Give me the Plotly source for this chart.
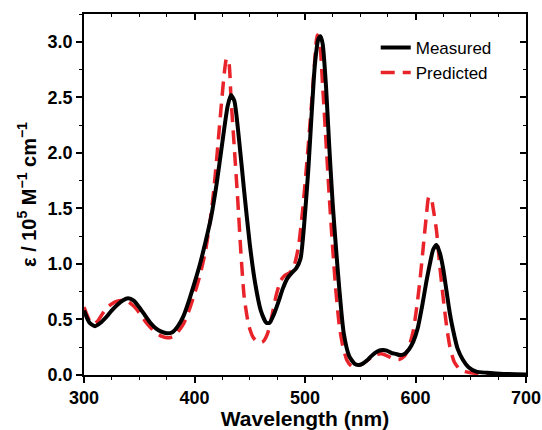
import plotly.graph_objects as go

wl_meas = [300,305,310,315,320,325,330,335,340,345,350,355,360,365,370,375,380,385,390,395,
           400,405,410,415,420,425,430,433,436,440,445,450,455,460,465,468,472,476,480,484,
           488,492,496,500,503,506,509,512,514,516,519,522,525,528,531,535,540,545,548,552,
           556,560,565,570,574,578,582,586,590,594,598,602,606,610,613,616,619,622,625,628,
           631,634,638,643,648,655,665,680,700]
eps_meas = [0.58,0.47,0.44,0.47,0.52,0.58,0.63,0.67,0.69,0.67,0.61,0.54,0.47,0.42,0.39,0.375,0.385,0.44,0.53,0.67,
            0.83,1.0,1.2,1.42,1.72,2.08,2.42,2.52,2.47,2.15,1.65,1.18,0.82,0.58,0.47,0.47,0.55,0.66,0.78,0.87,
            0.92,0.96,1.05,1.45,1.85,2.35,2.8,3.02,3.05,2.98,2.6,2.05,1.55,1.15,0.78,0.38,0.17,0.1,0.09,0.1,
            0.13,0.17,0.21,0.225,0.22,0.2,0.19,0.18,0.19,0.23,0.3,0.42,0.62,0.85,1.0,1.13,1.17,1.1,0.96,0.76,
            0.56,0.405,0.24,0.135,0.07,0.03,0.02,0.01,0.005]

wl_pred = [300,305,308,312,316,320,325,330,335,340,345,350,355,360,365,370,375,380,385,390,
           395,400,405,410,415,418,421,424,427,429,431,433,436,439,442,445,449,453,458,462,
           466,470,474,478,482,486,490,494,498,502,506,509,511,513,516,519,522,525,528,531,
           534,538,542,546,550,555,560,565,570,575,580,585,590,594,598,601,604,607,610,612,
           614,616,619,622,625,628,631,635,640,645,650,660,700]
eps_pred = [0.61,0.49,0.46,0.48,0.54,0.6,0.64,0.665,0.67,0.66,0.62,0.56,0.49,0.43,0.38,0.35,0.335,0.345,0.39,0.46,
            0.58,0.73,0.9,1.12,1.45,1.72,2.05,2.4,2.72,2.85,2.82,2.5,2.05,1.6,1.1,0.7,0.45,0.34,0.29,0.3,
            0.37,0.53,0.72,0.85,0.9,0.92,0.98,1.15,1.5,1.95,2.45,2.85,3.06,3.02,2.6,2.1,1.6,1.15,0.75,0.45,
            0.27,0.13,0.08,0.075,0.09,0.12,0.16,0.185,0.19,0.17,0.145,0.14,0.17,0.25,0.4,0.6,0.85,1.15,1.45,1.6,
            1.6,1.5,1.3,0.98,0.7,0.45,0.26,0.12,0.05,0.03,0.02,0.01,0.0]

fig = go.Figure()
fig.add_trace(go.Scatter(x=wl_pred, y=eps_pred, mode="lines", name="Predicted",
                         line=dict(color="#e8242a", width=3.5, dash="14px,8px", shape="spline", smoothing=0.6)))
fig.add_trace(go.Scatter(x=wl_meas, y=eps_meas, mode="lines", name="Measured",
                         line=dict(color="black", width=4, shape="spline", smoothing=0.6)))
# invisible trace for mirrored axes
fig.add_trace(go.Scatter(x=[300], y=[0], xaxis="x2", yaxis="y2", mode="markers",
                         marker=dict(opacity=0), showlegend=False, hoverinfo="skip"))

font_family = "Liberation Sans, Arial, sans-serif"
fig.update_layout(
    width=542, height=430,
    margin=dict(l=84, r=16, t=14, b=55, autoexpand=False),
    plot_bgcolor="white", paper_bgcolor="white",
    font=dict(family=font_family, color="black"),
    showlegend=True,
    legend=dict(x=0.66, y=0.956, xanchor="left", yanchor="top", traceorder="reversed",
                font=dict(size=17, family=font_family), bgcolor="rgba(0,0,0,0)",
                tracegroupgap=0, itemwidth=30),
    xaxis=dict(range=[300, 700], dtick=100, tick0=300, showline=True, linecolor="black", linewidth=1.5,
               ticks="outside", ticklen=6, tickwidth=1.5, tickcolor="black", automargin=False,
               minor=dict(dtick=25, ticks="outside", ticklen=3.5, tickwidth=1.2, tickcolor="black"),
               showgrid=False, zeroline=False,
               tickfont=dict(size=18, weight="bold"),
               title=dict(text="Wavelength (nm)", font=dict(size=21, weight="bold"), standoff=4)),
    yaxis=dict(range=[0, 3.25], dtick=0.5, tick0=0, tickformat=".1f", showline=True, linecolor="black", linewidth=1.5,
               ticks="outside", ticklen=6, tickwidth=1.5, tickcolor="black", automargin=False,
               minor=dict(dtick=0.25, ticks="outside", ticklen=3.5, tickwidth=1.2, tickcolor="black"),
               showgrid=False, zeroline=False,
               tickfont=dict(size=18, weight="bold"),
               title=dict(text="ε / 10<sup>5</sup> M<sup>−1</sup> cm<sup>−1</sup>", font=dict(size=20, weight="bold"), standoff=6)),
    xaxis2=dict(range=[300, 700], overlaying="x", side="top", dtick=100, tick0=300, showline=True,
                linecolor="black", linewidth=1.5, ticks="inside", ticklen=6, tickwidth=1.5, tickcolor="black",
                minor=dict(dtick=25, ticks="inside", ticklen=3.5, tickwidth=1.2, tickcolor="black"),
                showticklabels=False, showgrid=False, zeroline=False, automargin=False),
    yaxis2=dict(range=[0, 3.25], overlaying="y", side="right", anchor="x2", dtick=0.5, tick0=0, showline=True,
                linecolor="black", linewidth=1.5, ticks="inside", ticklen=6, tickwidth=1.5, tickcolor="black",
                minor=dict(dtick=0.25, ticks="inside", ticklen=3.5, tickwidth=1.2, tickcolor="black"),
                showticklabels=False, showgrid=False, zeroline=False, automargin=False),
)

fig.write_html("out.html", config={"displayModeBar": False},
               post_script="document.body.style.margin='0';document.body.style.overflow='hidden';")
